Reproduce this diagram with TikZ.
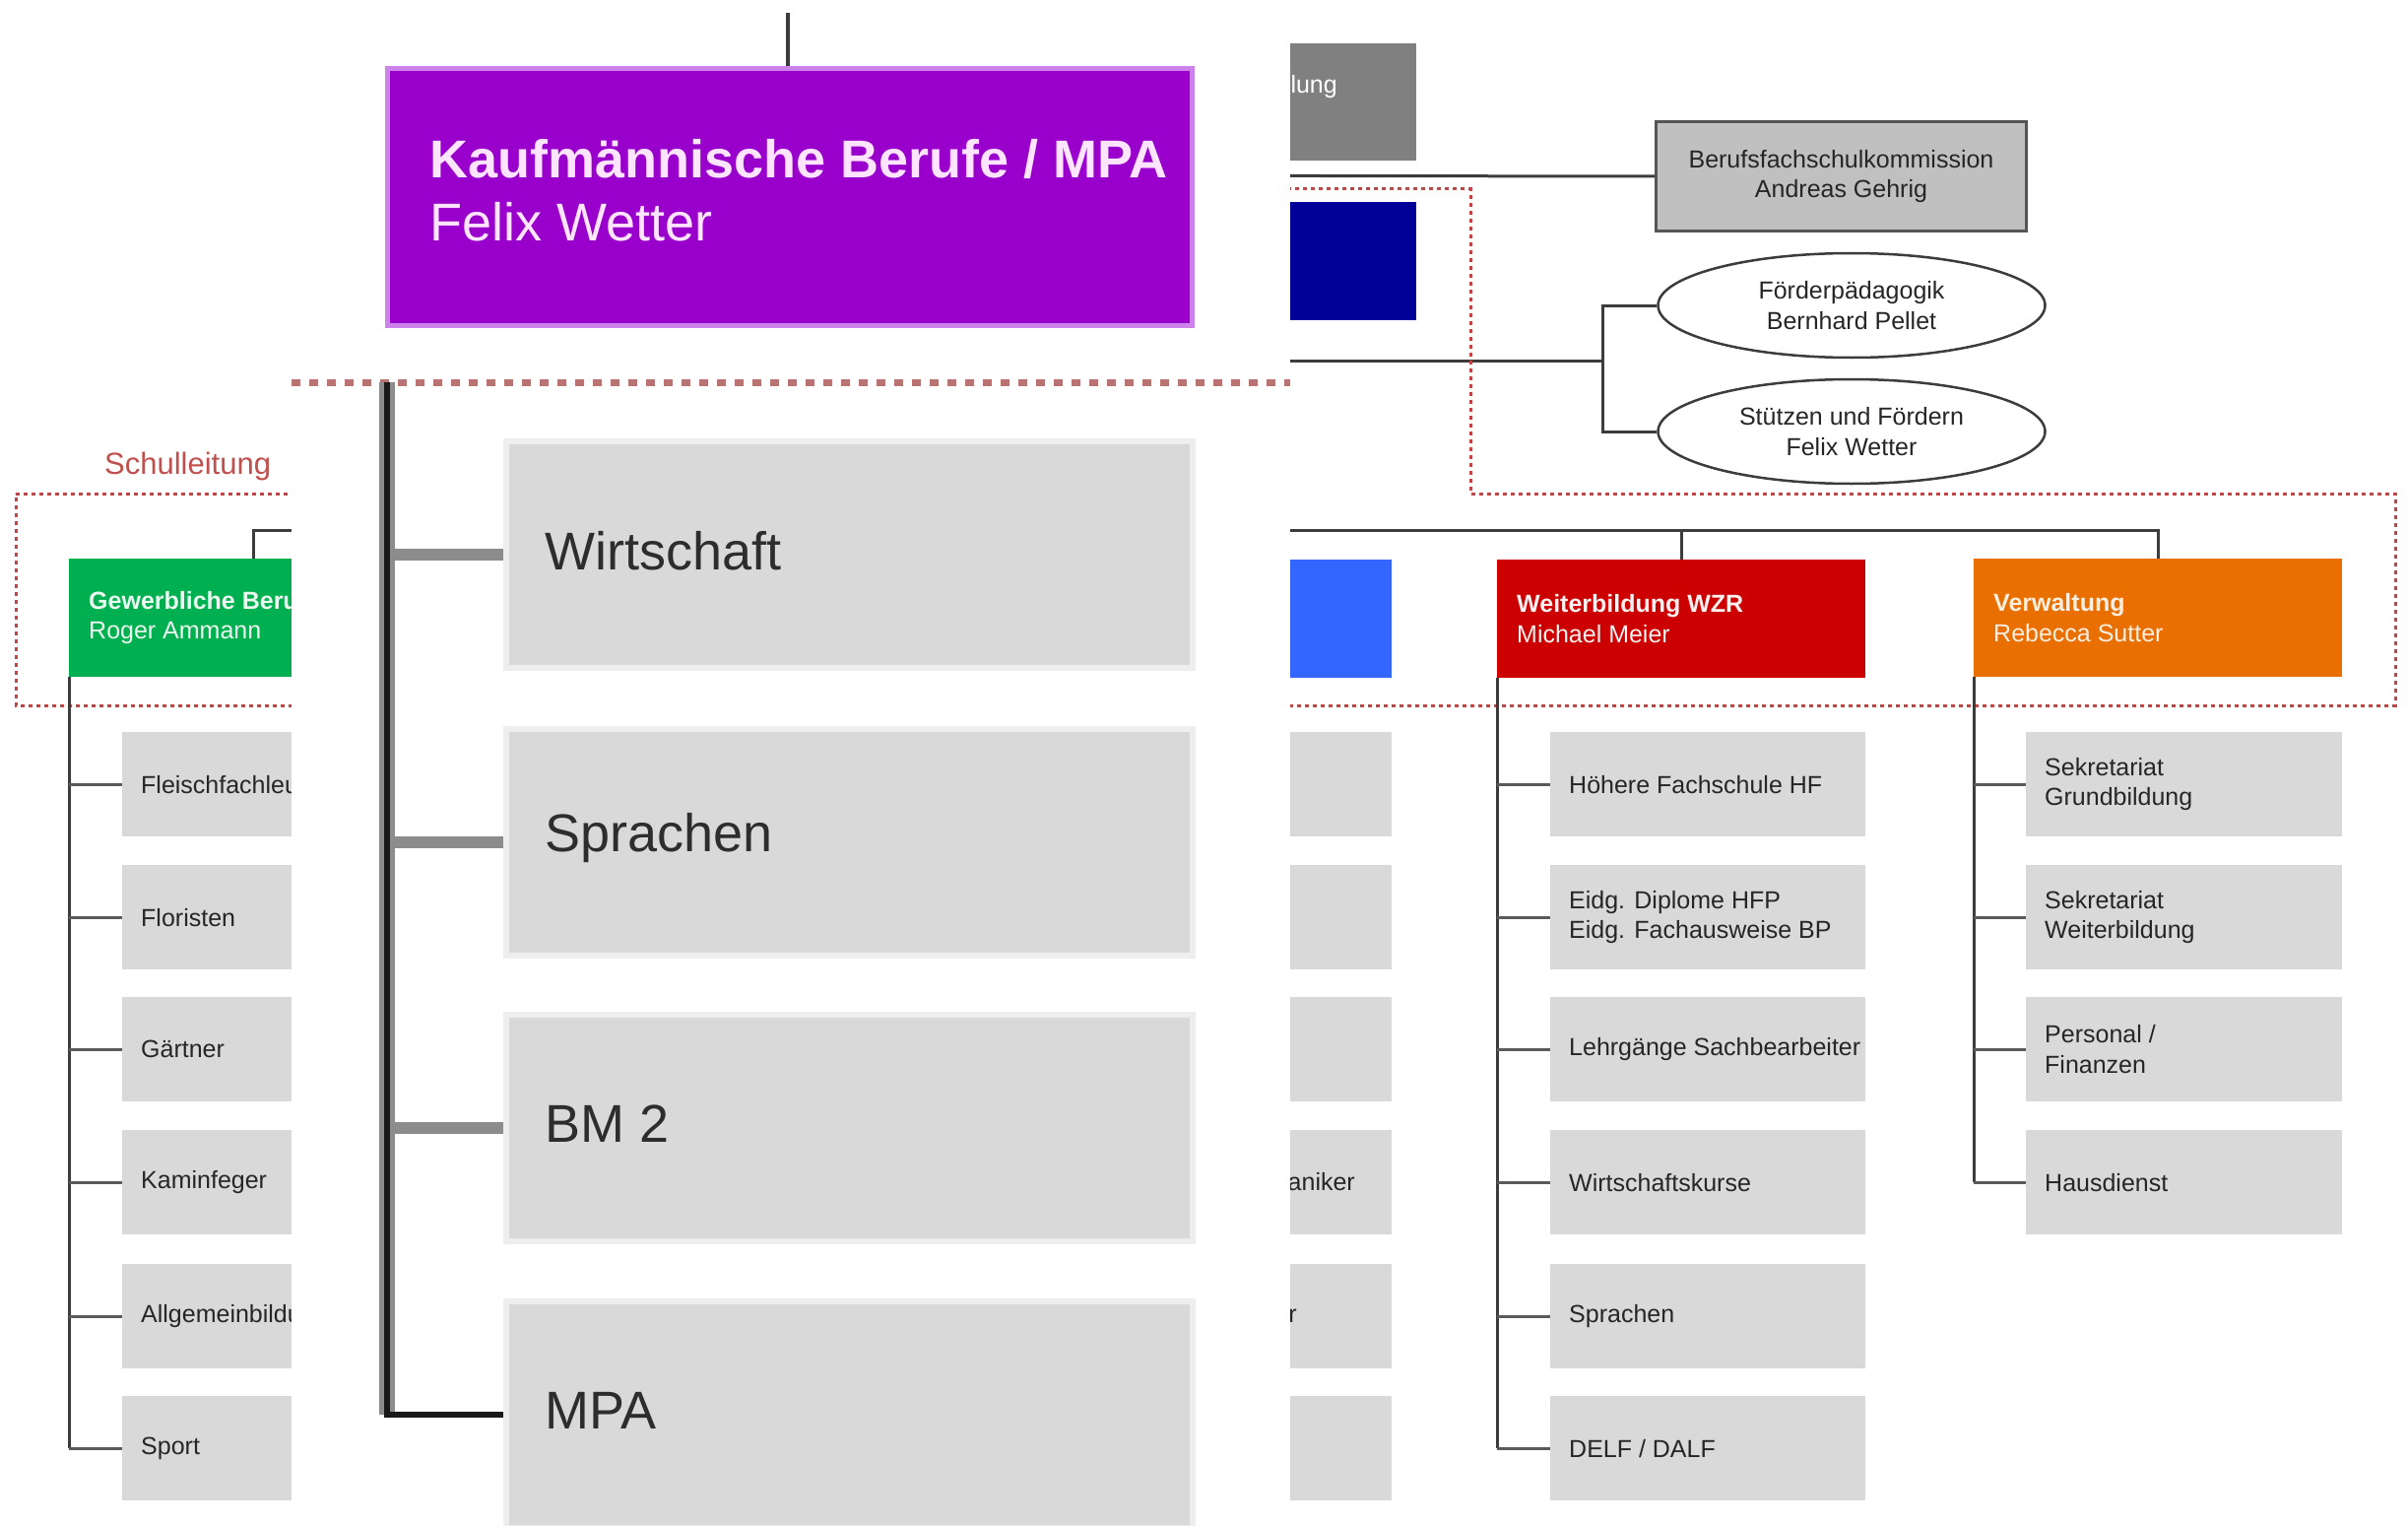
\documentclass[tikz,border=0pt]{standalone}
\usepackage{fontspec}
\setmainfont{Liberation Sans}
\usetikzlibrary{shapes.geometric}
\definecolor{cgreen}{RGB}{0,176,80}
\definecolor{cblue}{RGB}{51,102,255}
\definecolor{cred}{RGB}{204,0,0}
\definecolor{corange}{RGB}{233,112,0}
\definecolor{cnavy}{RGB}{0,0,153}
\definecolor{ctopgray}{RGB}{128,128,128}
\definecolor{cbox}{RGB}{217,217,217}
\definecolor{cboxedge}{RGB}{238,238,238}
\definecolor{ckomm}{RGB}{192,192,192}
\definecolor{ckommedge}{RGB}{85,85,85}
\definecolor{cpurple}{RGB}{153,0,204}
\definecolor{cpurpleedge}{RGB}{205,130,235}
\definecolor{cpink}{RGB}{255,228,255}
\definecolor{cdot}{RGB}{190,70,70}
\definecolor{cdotbig}{RGB}{185,115,115}
\definecolor{cline}{RGB}{60,60,60}
\definecolor{cstub}{RGB}{90,90,90}
\definecolor{ctext}{RGB}{38,38,38}
\definecolor{cbigtext}{RGB}{45,45,45}
\definecolor{clabel}{RGB}{192,80,77}
\definecolor{ogray}{RGB}{140,140,140}
\definecolor{oblack}{RGB}{25,25,25}
\newcommand\smallfont{\fontsize{25}{30.5}\selectfont}
\newcommand\bigfont{\fontsize{54}{64}\selectfont}
\begin{document}
\begin{tikzpicture}[x=1pt,y=-1pt,
 hdr/.style={rectangle, inner sep=0pt, minimum width=374pt, minimum height=120pt, anchor=north west},
 kid/.style={rectangle, fill=cbox, inner sep=0pt, minimum width=320pt, minimum height=106pt, anchor=north west},
 kidtxt/.style={anchor=west, inner sep=0pt, align=left, font=\smallfont, text=ctext},
 hdrtxt/.style={anchor=west, inner sep=0pt, align=left, font=\smallfont},
 conn/.style={draw=cline, line width=3pt},
 stub/.style={draw=cstub, line width=3pt},
 ell/.style={ellipse, draw=cline, line width=2.5pt, fill=white, minimum width=393pt, minimum height=106pt, inner sep=0pt, align=center, font=\smallfont, text=ctext},
 obox/.style={rectangle, fill=cbox, draw=cboxedge, line width=6pt, inner sep=0pt, minimum width=697pt, minimum height=230pt, anchor=north west},
 obtxt/.style={anchor=west, inner sep=0pt, font=\bigfont, text=cbigtext}
]
\useasboundingbox (0,0) rectangle (2445,1549);
\fill[white] (0,0) rectangle (2445,1549);

% ---------- background chart ----------
\node[rectangle, fill=ctopgray, anchor=north east, minimum width=438pt, minimum height=119pt, inner sep=0pt] (topbox) at (1438,44) {};
\node[anchor=east, inner sep=0pt, text=white, font=\smallfont] (toptxt) at (1358,88) {lung};
\node[rectangle, fill=cnavy, anchor=north east, minimum width=438pt, minimum height=120pt, inner sep=0pt] (navy) at (1438,205) {};

\node[rectangle, fill=ckomm, draw=ckommedge, line width=3pt, minimum width=376pt, minimum height=111pt, anchor=north west, inner sep=0pt, align=center, font=\smallfont, text=ctext] (komm) at (1680,122) {Berufsfachschulkommission\\Andreas Gehrig};
\coordinate (trA) at (1000,178);
\draw[conn] (trA) -- (komm.west);

\node[ell] (e1) at (1880,310) {Förderpädagogik\\Bernhard Pellet};
\node[ell] (e2) at (1880,438) {Stützen und Fördern\\Felix Wetter};
\coordinate (trB) at (1000,366);
\coordinate (brk) at (1627,366);
\draw[conn] (trB) -- (brk);
\draw[conn] (e1.west) -- (e1.west -| brk) -- (e2.west -| brk) -- (e2.west);

% dotted Schulleitung region
\draw[cdot, line width=3pt, dash pattern=on 4pt off 4pt] (16,501) -- (800,501) -- (800,192) -- (1493,192) -- (1493,501) -- (2432,501) -- (2432,716) -- (16,716) -- cycle;
\node[anchor=west, inner sep=0pt, text=clabel, font=\fontsize{31}{36}\selectfont] (slabel) at (106,473) {Schulleitung};

% department headers
\node[hdr, fill=cgreen] (gh) at (70,567) {};
\node[hdrtxt, text=cgreen!8!white] (ght) at ([xshift=20pt]gh.west) {\textbf{Gewerbliche Berufe}\\Roger Ammann};
\node[hdr, fill=cblue] (bh) at (1039,568) {};
\node[hdr, fill=cred] (rh) at (1520,568) {};
\node[hdrtxt, text=cred!6!white] (rht) at ([xshift=20pt]rh.west) {\textbf{Weiterbildung WZR}\\Michael Meier};
\node[hdr, fill=corange] (oh) at (2004,567) {};
\node[hdrtxt, text=corange!12!white] (oht) at ([xshift=20pt]oh.west) {\textbf{Verwaltung}\\Rebecca Sutter};

\coordinate (bus) at (0,538);
\draw[conn] (gh.north) -- (gh.north |- bus) -- (oh.north |- bus) -- (oh.north);
\draw[conn] (rh.north) -- (rh.north |- bus);

% green column
\node[kid] (g1) at (124,743) {};
\node[kid] (g2) at (124,878) {};
\node[kid] (g3) at (124,1012) {};
\node[kid] (g4) at (124,1147) {};
\node[kid] (g5) at (124,1283) {};
\node[kid] (g6) at (124,1417) {};
\node[kidtxt] (g1t) at ([xshift=19pt]g1.west) {Fleischfachleute};
\node[kidtxt] (g2t) at ([xshift=19pt]g2.west) {Floristen};
\node[kidtxt] (g3t) at ([xshift=19pt]g3.west) {Gärtner};
\node[kidtxt] (g4t) at ([xshift=19pt]g4.west) {Kaminfeger};
\node[kidtxt] (g5t) at ([xshift=19pt]g5.west) {Allgemeinbildung};
\node[kidtxt] (g6t) at ([xshift=19pt]g6.west) {Sport};
\draw[conn] (gh.south west) -- (g6.west -| gh.west);
\foreach \k in {g1,g2,g3,g4,g5,g6} \draw[stub] (\k.west -| gh.west) -- (\k.west);

% blue column (mostly hidden)
\node[kid] (b1) at (1093,743) {};
\node[kid] (b2) at (1093,878) {};
\node[kid] (b3) at (1093,1012) {};
\node[kid] (b4) at (1093,1147) {};
\node[kid] (b5) at (1093,1283) {};
\node[kid] (b6) at (1093,1417) {};
\node[kidtxt, anchor=east] (b4t) at (1376,1200) {aniker};
\node[kidtxt, anchor=east] (b5t) at (1317,1336) {r};

% red column
\node[kid] (r1) at (1574,743) {};
\node[kid] (r2) at (1574,878) {};
\node[kid] (r3) at (1574,1012) {};
\node[kid] (r4) at (1574,1147) {};
\node[kid] (r5) at (1574,1283) {};
\node[kid] (r6) at (1574,1417) {};
\node[kidtxt] (r1t) at ([xshift=19pt]r1.west) {Höhere Fachschule HF};
\node[kidtxt] (r2t) at ([xshift=19pt]r2.west) {Eidg. Diplome HFP\\Eidg. Fachausweise BP};
\node[kidtxt] (r3t) at ([xshift=19pt]r3.west) {Lehrgänge Sachbearbeiter};
\node[kidtxt] (r4t) at ([xshift=19pt]r4.west) {Wirtschaftskurse};
\node[kidtxt] (r5t) at ([xshift=19pt]r5.west) {Sprachen};
\node[kidtxt] (r6t) at ([xshift=19pt]r6.west) {DELF / DALF};
\draw[conn] (rh.south west) -- (r6.west -| rh.west);
\foreach \k in {r1,r2,r3,r4,r5,r6} \draw[stub] (\k.west -| rh.west) -- (\k.west);

% orange column
\node[kid, minimum width=321pt] (o1) at (2057,743) {};
\node[kid, minimum width=321pt] (o2) at (2057,878) {};
\node[kid, minimum width=321pt] (o3) at (2057,1012) {};
\node[kid, minimum width=321pt] (o4) at (2057,1147) {};
\node[kidtxt] (o1t) at ([xshift=19pt]o1.west) {Sekretariat\\Grundbildung};
\node[kidtxt] (o2t) at ([xshift=19pt]o2.west) {Sekretariat\\Weiterbildung};
\node[kidtxt] (o3t) at ([xshift=19pt]o3.west) {Personal /\\Finanzen};
\node[kidtxt] (o4t) at ([xshift=19pt]o4.west) {Hausdienst};
\draw[conn] (oh.south west) -- (o4.west -| oh.west);
\foreach \k in {o1,o2,o3,o4} \draw[stub] (\k.west -| oh.west) -- (\k.west);

% ---------- magnified overlay ----------
\fill[white] (296,0) rectangle (1310,1549);
\node[rectangle, fill=cpurple, draw=cpurpleedge, line width=5pt, minimum width=817pt, minimum height=261pt, anchor=north west, inner sep=0pt] (kb) at (391,67) {};
\coordinate (kbtop) at (800,13);
\draw[cline, line width=4pt] (kbtop) -- (kbtop |- kb.north);
\node[anchor=west, inner sep=0pt, align=left, font=\bigfont, text=cpink] (kbt) at (436,193) {\textbf{Kaufmännische Berufe / MPA}\\Felix Wetter};
\draw[cdotbig, line width=7pt, dash pattern=on 9pt off 9pt] (296,388) -- (1310,388);

\node[obox] (ow) at (511,445) {};
\node[obox] (os) at (511,737) {};
\node[obox] (ob) at (511,1027) {};
\node[obox] (om) at (511,1318) {};
\node[obtxt] (owt) at ([xshift=42pt,yshift=4pt]ow.west) {Wirtschaft};
\node[obtxt] (ost) at ([xshift=42pt,yshift=4pt]os.west) {Sprachen};
\node[obtxt] (obt) at ([xshift=42pt,yshift=4pt]ob.west) {BM 2};
\node[obtxt] (omt) at ([xshift=42pt,yshift=4pt]om.west) {MPA};

\coordinate (tr) at (393,388);
\foreach \k in {ow,os,ob} \draw[ogray, line width=12pt] (\k.west -| tr) -- (\k.west);
\draw[ogray, line width=16pt] (tr) -- (om.west -| tr);
\draw[oblack, line width=6pt] (tr) -- (om.west -| tr) -- (om.west);
\end{tikzpicture}
\end{document}
